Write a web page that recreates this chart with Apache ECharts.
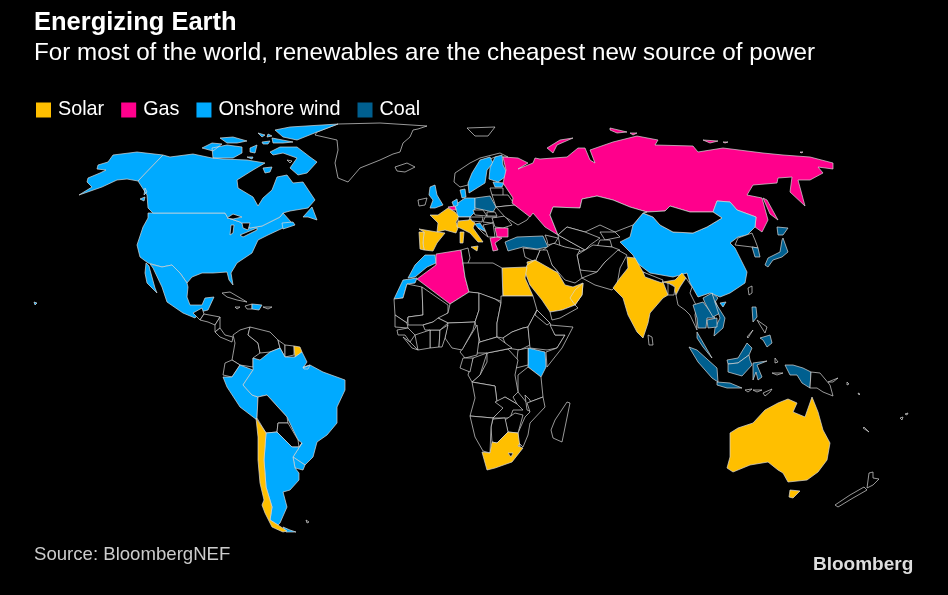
<!DOCTYPE html>
<html>
<head>
<meta charset="utf-8">
<style>html,body{margin:0;background:#000}#chart{width:948px;height:595px}</style>
<script src="https://cdn.jsdelivr.net/npm/echarts@6/dist/echarts.min.js"></script>
</head>
<body>
<div id="chart"></div>
<script>
// cheapest new power source by country
const categories = ["Solar", "Gas", "Onshore wind", "Coal"];
const categoryColors = ["#ffbf00", "#ff008c", "#00aaff", "#005f8f"];
const solarCountries = ["France", "Spain", "Portugal", "Italy", "Egypt", "Saudi Arabia", "Oman", "Jordan", "India", "Australia", "South Africa", "Chile", "French Guiana"];
const gasCountries = ["Russia", "Algeria", "Belgium", "Bulgaria", "Greece"];
const windCountries = ["USA", "Canada", "Mexico", "Dominican Republic", "Brazil", "Peru", "Argentina", "Uruguay", "China", "Sweden", "Finland", "Estonia", "UK", "Denmark", "Germany", "Netherlands", "Croatia", "Morocco", "Western Sahara", "Kenya"];
const coalCountries = ["Poland", "Turkey", "Thailand", "Laos", "Vietnam", "Cambodia", "Malaysia", "Indonesia", "Philippines", "South Korea", "Japan"];

// hand traced outlines, map units, y grows downward (flipped when building the geojson)
const outlines = {
  Greenland: ["338,124 380,123 427,126 418,129 413,130 410,137 403,143 400,152 393,154 380,160 360,168 348,182 338,178 335,163 338,150 337,140 315,135 317,132"],
  Iceland: ["395,167 407,163 415,167 405,172 397,171"],
  Svalbard: ["467,128 495,127 488,136 475,136"],
  USA: ["153,213 225,213 228,218 240,222 250,228 262,226 280,217 283,213 292,223 283,228 268,235 258,240 252,253 237,263 231,273 233,285 229,280 227,272 213,273 202,273 192,277 187,283 180,273 172,265 162,267 148,263 140,257 137,245 143,227 148,218 148,213",
    "163,155 137,152 113,155 108,162 98,165 97,169 106,170 100,173 88,178 87,182 92,187 79,195 102,187 117,180 127,179 138,181",
    "34,302 37,303 35,305"],
  Canada: ["163,155 170,157 193,154 212,158 223,159 247,160 265,163 253,170 237,180 238,188 253,197 258,206 263,198 272,190 277,177 287,175 293,183 303,182 315,200 308,208 290,211 283,213 280,217 262,226 250,228 240,222 228,218 225,213 153,213 148,208 147,195 138,181",
    "303,217 312,207 317,220 308,217", "282,223 293,222 295,225 283,229",
    "202,148 212,143 222,144 213,151", "212,148 227,145 242,147 242,153 233,158 213,158", "220,138 233,137 247,141 237,143 227,143",
    "270,152 280,147 297,147 310,157 317,162 307,173 298,175 290,168 297,158 283,153 273,155", "250,148 257,145 255,153 250,152",
    "275,130 290,127 338,124 317,132 297,140 283,137", "272,138 293,142 283,143 273,143", "258,133 265,135 262,137", "268,134 272,136 267,137",
    "262,142 270,141 268,144 263,144", "263,168 272,167 270,172 265,173", "247,157 253,157 252,159", "140,199 145,197 144,201", "145,188 147,192 144,195"],
  Mexico: ["150,264 162,267 172,265 180,273 187,283 188,287 187,297 190,305 202,305 205,298 214,297 208,310 200,312 195,318 183,313 167,302 162,287 153,268",
    "146,263 149,266 150,270 155,288 157,293 147,283 145,273"],
  Superior: ["227,218 233,214 242,217 233,219"], Michigan: ["230,235 231,225 234,225 233,233"], Huron: ["242,223 250,223 248,230 243,228"], Erie: ["240,235 257,228 257,230 243,237"],
  Baffinlake: ["287,160 292,161 290,163"],
  Cuba: ["222,293 230,292 247,302 237,300 227,297"], Haiti: ["245,306 252,304 252,309 247,309"], "Dominican Republic": ["252,304 262,305 259,310 252,309"],
  Jamaica: ["235,307 240,307 237,309"], "Puerto Rico": ["263,307 272,307 268,309"],
  Guatemala: ["193,313 202,308 204,314 200,320"], Honduras: ["200,320 204,314 220,317 215,325 208,322"], Nicaragua: ["215,325 220,317 220,328 215,332"],
  Panama: ["215,332 220,328 225,335 233,337 232,342 225,339 220,337"],
  Colombia: ["233,335 240,330 250,327 248,335 258,343 260,353 253,358 253,367 240,365 232,360 235,343"],
  Venezuela: ["250,327 270,332 278,340 280,348 270,352 260,353 258,343 248,335"],
  Guyana: ["278,340 285,345 285,357 280,348"], Suriname: ["285,345 294,346 294,355 285,357"], "French Guiana": ["294,346 300,347 302,352 295,357"],
  Ecuador: ["225,363 232,360 240,365 232,377 223,375"],
  Peru: ["223,377 232,377 240,365 253,370 243,385 252,395 258,397 257,420 240,407 227,387"],
  Brazil: ["253,358 260,360 270,352 280,348 285,357 295,357 302,352 307,362 303,368 310,365 323,372 345,380 345,390 337,407 337,423 327,435 317,442 313,457 305,465 293,457 302,443 298,440 287,417 267,395 258,397 252,395 243,385 253,370",
    "303,367 310,365 308,369 304,369"],
  Bolivia: ["257,418 258,397 267,395 287,417 288,423 278,423 277,432 266,433"],
  Paraguay: ["278,423 288,423 298,440 299,447 292,447 277,432"],
  Uruguay: ["293,457 305,465 303,470 295,468"],
  Argentina: ["266,433 277,432 292,447 299,447 302,443 293,457 295,468 299,473 299,480 290,490 283,492 287,507 280,523 278,525 270,520 272,507 266,487 264,460",
    "283,527 290,530 296,532 286,532"],
  Chile: ["256,418 266,433 264,460 266,487 272,507 270,520 278,525 287,531 283,532 272,527 265,513 262,505 264,500 260,483 258,460 258,437"],
  Falklands: ["306,520 309,522 307,523"],
  Norway: ["454,182 455,173 470,163 480,158 500,153 508,157 495,157 483,162 473,173 468,185 460,187"],
  Sweden: ["468,183 472,173 480,160 490,157 493,163 487,170 485,183 477,188 469,193"],
  Finland: ["495,157 502,155 503,165 508,175 498,182 489,179 490,168"],
  Estonia: ["493,182 504,183 502,187 495,187"], Latvia: ["490,188 503,188 503,197 492,195"],
  UK: ["430,187 435,185 437,195 443,205 435,208 430,208 433,200 429,195"], Ireland: ["418,200 427,198 425,205 419,206"],
  Denmark: ["460,190 465,189 466,197 462,198"], Germany: ["455,205 465,198 475,198 475,212 470,217 458,217"],
  Netherlands: ["452,202 457,199 458,205 454,207"], Belgium: ["448,207 455,206 456,210 452,210"],
  Poland: ["475,198 490,196 496,207 493,212 475,208"],
  France: ["430,215 438,215 448,208 455,212 459,217 456,222 458,228 456,233 445,230 437,232 438,223"],
  Spain: ["419,229 437,232 445,233 437,243 433,251 424,250 423,243 424,232"], Portugal: ["419,232 424,232 423,243 424,250 420,249"],
  Italy: ["458,221 470,219 475,223 473,228 483,242 478,242 470,233 460,228 457,227", "460,232 464,232 463,243 460,243", "471,247 478,246 477,251"],
  Switzerland: ["458,217 470,217 469,220 458,221"], Czechia: ["473,210 483,210 487,216 475,215"], Austria: ["470,217 483,217 482,222 472,221"],
  Hungary: ["485,217 497,217 492,223 483,222"], Slovakia: ["487,212 495,212 497,216 487,216"], Croatia: ["475,224 480,223 486,232 478,228"],
  Bosnia: ["478,228 486,232 488,237 483,233"], Romania: ["492,218 505,216 512,225 503,228 495,227"], Bulgaria: ["495,228 508,228 508,237 497,237"],
  Greece: ["490,238 497,237 502,238 495,243 498,250 493,251"], Serbia: ["483,225 493,223 495,237 488,237"],
  Belarus: ["492,195 508,195 515,205 496,207"], Ukraine: ["496,207 515,205 532,213 527,220 518,225 505,217"],
  Turkey: ["505,242 517,237 543,236 548,247 537,249 523,247 508,251"],
  Russia: ["503,157 518,158 528,163 518,169 533,163 535,158 540,159 567,157 578,148 585,148 590,160 595,163 590,150 613,142 637,136 658,140 655,145 693,146 698,152 723,148 763,153 783,155 810,157 833,163 833,169 818,167 823,173 810,180 798,180 805,206 790,192 792,177 778,178 777,183 753,185 747,195 762,198 768,220 762,232 755,227 756,217 737,210 730,202 717,201 713,212 690,212 670,206 665,211 647,212 630,207 613,200 597,196 582,199 580,208 553,207 550,215 558,235 545,227 533,213 530,217 512,203 513,198 503,183 506,170",
    "547,148 560,140 573,138 557,145 553,153", "610,128 627,132 617,133 610,130", "630,133 637,133 633,135", "703,140 718,141 710,143", "723,142 728,142 725,143", "763,198 767,200 778,220 770,214", "800,152 803,152 801,153"],
  China: ["643,213 653,217 660,225 673,232 693,233 707,227 722,218 713,212 717,201 730,202 737,210 756,217 755,227 747,235 738,237 730,243 735,248 747,272 745,283 730,293 720,297 710,293 698,297 690,283 687,273 673,277 650,273 637,263 633,255 620,242 630,237 633,225",
    "720,303 726,302 723,307"],
  Taiwan: ["748,288 752,286 752,293 749,295"],
  Mongolia: ["643,213 647,212 665,211 670,206 690,212 713,212 722,218 707,227 693,233 673,232 660,225 653,217"],
  Kazakhstan: ["553,207 580,208 582,199 597,196 613,200 630,207 647,212 643,213 633,225 615,232 600,225 585,232 567,227 558,235 550,215"],
  Turkmenistan: ["558,235 567,240 585,250 578,252 560,246"], Uzbekistan: ["567,227 585,232 600,238 590,245 585,250 567,240 558,235"],
  Kyrgyzstan: ["600,232 615,232 620,237 605,240"], Tajikistan: ["600,240 610,240 612,247 597,247"],
  Afghanistan: ["593,245 612,247 620,250 605,262 597,272 580,270 577,255"],
  Pakistan: ["597,272 605,262 618,250 627,255 620,268 617,285 612,290 595,285 582,278"],
  Iran: ["553,243 565,247 580,250 577,255 580,270 582,278 575,283 565,280 552,265 543,250"],
  Iraq: ["540,250 547,250 552,265 558,272 548,272 535,262"], Syria: ["523,248 540,250 535,262 525,257"],
  Caucasus: ["545,235 558,238 555,243 548,245 547,240"],
  Jordan: ["527,262 535,260 535,267 528,268"],
  "Saudi Arabia": ["527,265 535,260 558,273 565,285 573,287 583,283 582,295 575,305 562,310 550,312 542,300 530,285 525,272"],
  Oman: ["583,283 582,295 575,305 570,298 575,290"], Yemen: ["550,312 562,310 575,305 578,308 560,318 552,320"],
  Egypt: ["502,268 527,267 525,278 533,296 503,296"],
  India: ["627,257 635,258 643,272 663,282 668,295 663,298 650,313 648,323 643,338 637,332 628,315 623,298 613,288 620,278 628,268",
    "663,282 675,280 682,273 686,278 680,287 676,295 673,285 667,283"],
  Nepal: ["643,272 663,280 662,283 645,277"], Bangladesh: ["668,283 675,287 674,295 668,295"], "Sri Lanka": ["648,335 652,337 653,345 649,345"],
  Myanmar: ["680,287 686,278 692,287 690,293 697,307 695,315 697,330 690,315 685,310 678,305 676,295"],
  Thailand: ["693,305 703,302 715,318 707,318 706,328 698,328 697,318"],
  Laos: ["703,298 712,293 715,300 720,313 713,317 705,303"],
  Vietnam: ["712,293 718,298 715,302 725,318 723,328 714,336 715,328 720,318"],
  Cambodia: ["707,320 717,318 717,327 708,328"],
  Malaysia: ["697,332 712,358 703,347 697,338", "727,360 738,358 747,343 752,348 749,355 738,363 728,364"],
  Indonesia: ["689,347 697,350 717,368 718,382 712,378 698,362", "717,382 730,383 742,388 727,388 717,385",
    "728,364 738,363 749,355 750,360 752,365 742,376 728,372", "753,363 767,361 757,365 762,377 758,380 756,372 753,380",
    "785,365 793,365 803,368 811,372 810,388 802,383 797,375 790,375"],
  Philippines: ["752,307 756,307 757,317 753,322", "760,338 770,335 772,343 767,347 763,340"],
  Visayas: ["757,320 767,327 765,333 760,325"], Palawan: ["747,337 753,330 754,331 748,338"],
  "Papua New Guinea": ["811,372 820,373 830,385 833,396 823,392 817,388 810,388"], "New Britain": ["828,382 838,378 833,382"],
  Timor: ["763,393 772,389 770,392 765,396"], Sunda: ["745,390 752,389 748,392"], Flores: ["753,390 762,390 757,392"],
  Moluccas: ["775,358 778,362 775,363"], Seram: ["772,373 783,373 777,375"],
  "North Korea": ["735,245 738,238 752,233 755,240 758,248 752,247"], "South Korea": ["752,247 758,248 760,257 755,257"],
  Japan: ["783,238 788,252 782,257 773,260 768,267 765,265 768,258 780,252 782,240", "777,227 788,228 783,235 778,235"],
  Australia: ["730,433 738,428 753,423 765,410 778,403 788,399 797,403 793,412 805,417 812,397 818,412 823,430 830,443 827,460 818,472 807,480 788,482 783,473 778,470 768,462 750,465 733,472 727,468 730,457 730,443",
    "790,490 800,491 793,498 789,497"],
  "New Zealand": ["835,505 850,495 864,487 867,490 853,498 838,507", "869,473 873,472 873,478 879,479 873,485 867,488"],
  "New Caledonia": ["864,427 869,432 868,433 863,428"], Fiji: ["900,418 903,417 902,420", "905,414 908,413 907,415"], Solomon: ["858,393 860,394 859,395", "847,382 849,384 847,385"],
  Morocco: ["425,255 435,255 436,263 427,267 415,277 408,278 415,265"],
  "Western Sahara": ["403,280 417,278 415,283 407,284 403,298 394,299"],
  Algeria: ["436,254 461,250 465,277 469,292 450,304 417,279 436,265"],
  Tunisia: ["461,250 468,248 470,258 466,268 463,263"],
  Libya: ["463,263 493,263 502,268 503,302 495,299 478,293 469,292 465,277"],
  Mauritania: ["394,299 403,298 407,284 422,287 423,315 408,317 407,323 395,315"],
  Mali: ["422,287 448,305 448,313 433,322 423,325 408,325 408,317 423,315"],
  Niger: ["450,304 469,292 479,293 479,310 475,322 448,323 438,318 448,313"],
  Chad: ["479,293 495,299 501,303 497,323 497,337 480,342 475,322 479,310"],
  Sudan: ["501,296 533,296 537,310 528,327 523,328 512,332 503,338 497,337 497,323 501,303"],
  "South Sudan": ["503,338 512,332 523,328 528,327 530,345 520,350 507,348"],
  Ethiopia: ["528,327 537,310 550,323 555,335 565,335 557,348 547,350 530,348"],
  Somalia: ["550,325 573,327 562,348 547,367 546,352 557,348 565,335 555,335"],
  Eritrea: ["537,310 550,323 547,325 535,315"],
  Kenya: ["528,348 545,352 546,367 541,377 528,367"], Uganda: ["518,350 528,348 528,365 516,368"],
  Tanzania: ["518,375 528,367 541,377 543,397 527,403 518,392"],
  "DR Congo": ["487,353 508,349 518,360 515,375 518,392 513,397 517,404 505,397 497,402 495,386 472,382 480,375 487,362"],
  CAR: ["480,342 497,337 512,348 487,353 477,353 473,350"],
  Cameroon: ["463,348 477,325 479,340 477,355 465,358 460,352"],
  Nigeria: ["448,323 475,322 473,330 462,350 452,348 445,338"],
  Ghana: ["430,330 440,330 439,347 430,348"], Benin: ["440,330 448,325 445,338 442,347 439,347"], Burkina: ["423,325 433,322 438,318 448,323 440,330 425,330"],
  "Ivory Coast": ["415,335 430,330 430,348 418,350"], Senegal: ["395,315 407,323 408,328 395,327"], Guinea: ["397,330 408,328 415,335 410,342 405,335 398,335"],
  Liberia: ["403,337 410,342 418,350 412,348"],
  Congo: ["473,358 487,353 480,375 472,382 468,375"], Gabon: ["463,358 473,358 470,372 460,368"],
  Angola: ["472,382 495,386 497,402 505,408 493,418 470,416 475,398"],
  Zambia: ["495,402 505,397 517,404 523,410 513,410 510,418 493,418 503,408"],
  Malawi: ["525,395 530,400 532,412 527,410"],
  Mozambique: ["527,403 543,397 545,407 530,423 528,435 523,447 518,442 518,433 525,417 530,412"],
  Zimbabwe: ["505,420 515,413 523,415 518,433 508,432"], Botswana: ["493,419 505,418 508,432 497,443 492,442 491,427"],
  Namibia: ["470,416 493,418 491,427 490,453 483,451 475,437"],
  "South Africa": ["482,452 490,453 492,442 497,443 508,432 518,433 520,447 523,448 512,462 495,468 487,470"],
  Lesotho: ["508,453 513,453 511,457"], Eswatini: ["518,445 520,445 519,447"],
  Madagascar: ["567,402 570,403 562,442 553,438 551,430 555,420"]
};

const toRing = (s) => s.split(" ").map((p) => {
  const [x, y] = p.split(",").map(Number);
  return [x, -y];
});

const features = Object.keys(outlines).map((name) => ({
  type: "Feature",
  properties: { name },
  geometry: { type: "MultiPolygon", coordinates: outlines[name].map((s) => [toRing(s)]) },
}));
echarts.registerMap("world", { type: "FeatureCollection", features });

const seriesData = [solarCountries, gasCountries, windCountries, coalCountries].flatMap((list, i) =>
  list.map((name) => ({ name, value: i }))
);

const chart = echarts.init(document.getElementById("chart"));
chart.setOption({
  backgroundColor: "#000",
  animation: false,
  textStyle: { fontFamily: "Liberation Sans" },
  title: [
    { text: "Energizing Earth", left: 29, top: 5, textStyle: { color: "#fff", fontSize: 25.5, fontWeight: "bold" } },
    { text: "For most of the world, renewables are the cheapest new source of power", left: 29, top: 36, textStyle: { color: "#fff", fontSize: 24.2, fontWeight: "normal" } },
    { text: "Source: BloombergNEF", left: 29, top: 540, textStyle: { color: "#ccc", fontSize: 18.6, fontWeight: "normal" } },
    { text: "Bloomberg", left: 808, top: 550, textStyle: { color: "#ddd", fontSize: 19, fontWeight: "bold" } },
  ],
  visualMap: {
    type: "piecewise",
    orient: "horizontal",
    left: 21,
    top: 85,
    itemWidth: 15,
    itemHeight: 15,
    itemGap: 17,
    textGap: 7,
    itemSymbol: "rect",
    hoverLink: false,
    selectedMode: false,
    textStyle: { color: "#fff", fontSize: 19.8 },
    pieces: categories.map((label, i) => ({ value: i, label, color: categoryColors[i] })),
    seriesIndex: 0,
  },
  series: [
    {
      type: "map",
      map: "world",
      silent: true,
      roam: false,
      aspectScale: 1,
      boundingCoords: [[0, 0], [948, -595]],
      left: 0,
      top: 0,
      width: 948,
      height: 595,
      label: { show: false },
      emphasis: { disabled: true },
      select: { disabled: true },
      itemStyle: { areaColor: "#000", borderColor: "#d9d9d9", borderWidth: 0.7 },
      data: seriesData,
    },
  ],
});
</script>
</body>
</html>
